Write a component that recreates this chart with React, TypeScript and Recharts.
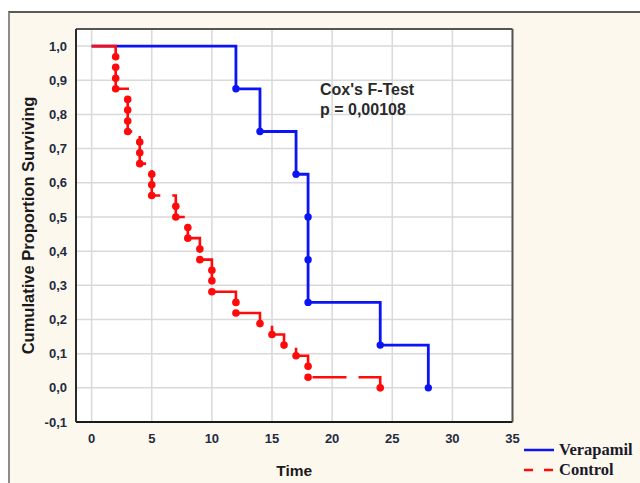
import React from 'react';
import {
  LineChart, Line, XAxis, YAxis, CartesianGrid,
} from 'recharts';

// Kaplan-Meier style cumulative proportion surviving
const verapamilTime = [0, 12, 14, 17, 18, 18, 18, 24, 28];
const verapamilSurv = [1.0, 0.875, 0.75, 0.625, 0.5, 0.375, 0.25, 0.125, 0.0];

const controlTime = [
  0, 2, 2, 2, 2, 3, 3, 3, 3, 4, 4, 4, 5, 5, 5, 7, 7, 8, 8, 9, 9,
  10, 10, 10, 12, 12, 14, 15, 16, 17, 18, 18, 24,
];
const controlSurv = [
  1.0, 0.969, 0.938, 0.906, 0.875, 0.844, 0.813, 0.781, 0.75, 0.719, 0.688, 0.656,
  0.625, 0.594, 0.563, 0.531, 0.5, 0.469, 0.438, 0.406, 0.375,
  0.344, 0.313, 0.281, 0.25, 0.219, 0.188, 0.156, 0.125, 0.094, 0.063, 0.031, 0.0,
];

const xTicks = [0, 5, 10, 15, 20, 25, 30, 35];
const yTicks = [-0.1, 0, 0.1, 0.2, 0.3, 0.4, 0.5, 0.6, 0.7, 0.8, 0.9, 1.0];
const xDomain = [-1.3, 35];
const yDomain = [-0.1, 1.05];

const seriesNames = ['Verapamil', 'Control'];
const annotation = ["Cox's F-Test", 'p = 0,00108'];

const verapamilData = verapamilTime.map((t, i) => ({ t, s: verapamilSurv[i] }));
const controlData = controlTime.map((t, i) => ({ t, s: controlSurv[i] }));

const BLUE = '#0a14f5';
const RED = '#ff0a0a';
const TICK_COLOR = '#232b3e';
const tickFont = "'Liberation Sans Narrow', 'Arial Narrow', 'Liberation Sans', Arial, sans-serif";
const labelFont = "'Liberation Sans', Arial, sans-serif";

const fmtY = (v: number) => v.toFixed(1).replace('.', ',');

const makeDot = (color: string, r: number) => (props: any) => {
  const { cx, cy, index } = props;
  if (index === 0 || cx == null || cy == null) return <g key={`d-${index}`} />;
  return (
    <g key={`d-${index}`}>
      <circle cx={cx} cy={cy} r={r} fill={color} stroke="none" />
    </g>
  );
};

const LegendBox = () => (
  <div style={{ fontFamily: "'Liberation Serif', 'Times New Roman', serif", fontWeight: 'bold', fontSize: 16.5, color: '#1a1a2a' }}>
    <div style={{ display: 'flex', alignItems: 'center', height: 20 }}>
      <svg width={36} height={10}>
        <line x1={1} y1={5} x2={31} y2={5} stroke={BLUE} strokeWidth={2.5} />
      </svg>
      <span>{seriesNames[0]}</span>
    </div>
    <div style={{ display: 'flex', alignItems: 'center', height: 20 }}>
      <svg width={36} height={10}>
        <line x1={1} y1={5} x2={31} y2={5} stroke={RED} strokeWidth={2.5} strokeDasharray="9 11" />
      </svg>
      <span>{seriesNames[1]}</span>
    </div>
  </div>
);

export default function App() {
  return (
    <div style={{ position: 'absolute', left: 0, top: 0, width: 640, height: 483, background: '#ffffff', overflow: 'hidden' }}>
      <div
        style={{
          position: 'absolute', left: 8, top: 11, width: 660, height: 500,
          background: '#fdf8ee', borderTop: '2px solid #5a5a5a', borderLeft: '2px solid #8c8c8c',
        }}
      />
      <div style={{ position: 'absolute', left: 0, top: 0 }}>
        <LineChart width={640} height={483} margin={{ top: 29, right: 127.5, bottom: 3, left: 16 }}>
          <CartesianGrid stroke="#d9d9d9" strokeWidth={1.5} fill="#ffffff" fillOpacity={1} />
          <XAxis
            type="number" dataKey="t" domain={xDomain} ticks={xTicks} allowDataOverflow
            height={58} tickSize={0} tickMargin={12} tickLine={false}
            axisLine={{ stroke: '#1a1a1a', strokeWidth: 2 }}
            tick={{ fill: TICK_COLOR, fontSize: 13, fontWeight: 'bold', fontFamily: tickFont }}
            label={{ value: 'Time', position: 'insideBottom', offset: 4, fill: '#1a1a1a', fontSize: 15.5, fontWeight: 'bold', fontFamily: labelFont }}
          />
          <XAxis
            xAxisId="top" orientation="top" mirror type="number" dataKey="t" domain={xDomain} ticks={xTicks}
            allowDataOverflow tick={false} tickSize={4}
            tickLine={{ stroke: '#333', strokeWidth: 1 }}
            axisLine={{ stroke: '#555', strokeWidth: 2 }}
          />
          <XAxis
            xAxisId="bm" orientation="bottom" mirror type="number" dataKey="t" domain={xDomain} ticks={xTicks}
            allowDataOverflow tick={false} tickSize={4}
            tickLine={{ stroke: '#333', strokeWidth: 1 }} axisLine={false}
          />
          <YAxis
            type="number" domain={yDomain} ticks={yTicks} allowDataOverflow width={60}
            tickSize={0} tickMargin={9} tickLine={false} tickFormatter={fmtY}
            axisLine={{ stroke: '#2a2a2a', strokeWidth: 2 }}
            tick={{ fill: TICK_COLOR, fontSize: 13, fontWeight: 'bold', fontFamily: tickFont }}
            label={{
              value: 'Cumulative Proportion Surviving', angle: -90, position: 'insideLeft', offset: 12,
              style: { textAnchor: 'middle' }, fill: '#1a1a1a', fontSize: 16.5, fontWeight: 'bold', fontFamily: labelFont,
            }}
          />
          <YAxis
            yAxisId="lm" orientation="left" mirror type="number" domain={yDomain} ticks={yTicks}
            allowDataOverflow tick={false} tickSize={4}
            tickLine={{ stroke: '#333', strokeWidth: 1 }} axisLine={false}
          />
          <YAxis
            yAxisId="r" orientation="right" mirror type="number" domain={yDomain} ticks={yTicks}
            allowDataOverflow tick={false} tickSize={4}
            tickLine={{ stroke: '#333', strokeWidth: 1 }}
            axisLine={{ stroke: '#555', strokeWidth: 2 }}
          />
          <Line
            data={verapamilData} dataKey="s" type="stepAfter" stroke={BLUE} strokeWidth={2.8}
            dot={makeDot(BLUE, 3.7)} activeDot={false} isAnimationActive={false} name={seriesNames[0]}
          />
          <Line
            data={controlData} dataKey="s" type="stepAfter" stroke={RED} strokeWidth={2.6}
            strokeDasharray="34 12"
            dot={makeDot(RED, 3.8)} activeDot={false} isAnimationActive={false} name={seriesNames[1]}
          />
        </LineChart>
      </div>
      <div style={{ position: 'absolute', left: 523, top: 440 }}>
        <LegendBox />
      </div>
      <div
        style={{
          position: 'absolute', left: 320, top: 80, fontFamily: labelFont, fontWeight: 'bold',
          fontSize: 16, lineHeight: '20px', color: '#2a2a2a',
        }}
      >
        <div>{annotation[0]}</div>
        <div>{annotation[1]}</div>
      </div>
    </div>
  );
}
